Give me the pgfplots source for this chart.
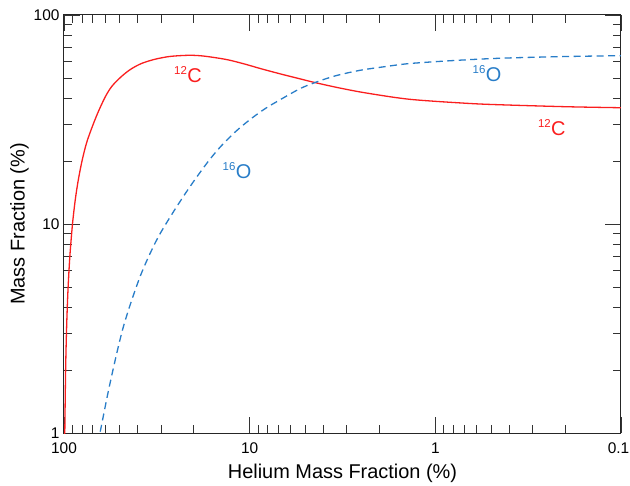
\documentclass[border=0pt]{standalone}
\usepackage{fontspec}
\setmainfont{Liberation Sans}
\usepackage{pgfplots}
\usepackage{pgfplotstable}
\pgfplotsset{compat=1.18}
\definecolor{cred}{RGB}{250,30,30}
\definecolor{cblue}{RGB}{40,125,200}
\newcommand{\iso}[2]{\raisebox{8bp}{\fontsize{11.5}{11.5}\selectfont #1}\kern0.3bp#2}

\pgfplotstableread{
he c
99.95 0.05
99.5 0.5
99 1.0
98 2.0
97 3.0
96 4.0
95 5.0
93 7.0
90 10.0
87 13.0
84 16.0
80 20.0
75 25.0
67.0 32.7
60.1 40.4
55.1 45.7
48.9 50.9
43.6 55.1
38.1 58.7
32.4 61.4
27.4 63.2
23.7 63.9
20.5 64.15
17.4 63.5
13.3 61.2
10.6 58.2
8.8 55.5
6.86 52.3
5.36 49.5
4.45 47.5
3.26 44.7
2.34 42.3
1.37 39.5
0.678 37.8
0.449 37.2
0.196 36.4
0.1 36.0
}\carbon

\pgfplotstableread{
he o
65.6 0.896
64.0 1.0
56.5 1.73
47.9 3.22
38.95 5.59
31.7 8.38
25.8 11.4
20.95 15.1
17.03 19.5
14.44 23.3
12.0 27.5
9.96 31.6
8.27 35.6
6.86 39.3
5.36 44.4
4.45 47.5
3.47 51.1
2.55 54.35
1.87 56.6
1.37 58.6
0.784 60.6
0.449 62.1
0.213 63.2
0.1 63.9
}\oxygen

\begin{document}
\begin{tikzpicture}[x=1bp,y=1bp]
\begin{axis}[
  at={(0,0)}, anchor=south west,
  width=557bp, height=418bp, scale only axis,
  xmode=log, ymode=log, x dir=reverse,
  xmin=0.1, xmax=100, ymin=1, ymax=100,
  xtick={0.1,1,10,100}, xticklabels={{\hspace*{-5bp}0.1},1,10,100},
  ytick={1,10,100}, yticklabels={1,10,100},
  minor xtick={0.2,0.3,0.4,0.5,0.6,0.7,0.8,0.9,2,3,4,5,6,7,8,9,20,30,40,50,60,70,80,90},
  minor ytick={2,3,4,5,6,7,8,9,20,30,40,50,60,70,80,90},
  tick pos=both, tick align=inside,
  major tick length=16bp, minor tick length=8bp,
  every tick/.style={black!80, line width=0.8bp},
  axis line style={black!85, line width=1bp},
  tick label style={font=\fontsize{15.5}{15.5}\selectfont},
  xticklabel style={yshift=-6.5bp},
  yticklabel style={xshift=-1bp},
  label style={font=\fontsize{20}{20}\selectfont},
  xlabel={Helium Mass Fraction (\%)},
  ylabel={Mass Fraction (\%)},
  xlabel style={at={(axis description cs:0.5,-0.0957)}, anchor=center},
  ylabel style={at={(axis description cs:-0.0799,0.5)}, anchor=center},
]
\addplot[cred, line width=1.3bp, smooth] table[x=he, y=c] {\carbon};
\addplot[cblue, line width=1.3bp, smooth, dash pattern=on 7bp off 4.5bp] table[x=he, y=o] {\oxygen};
\node[text=cred, inner sep=0, font=\fontsize{20}{20}\selectfont] at (axis cs:21.5,52.0) {\iso{12}{C}};
\node[text=cred, inner sep=0, font=\fontsize{20}{20}\selectfont] at (axis cs:0.236,28.8) {\iso{12}{C}};
\node[text=cblue, inner sep=0, font=\fontsize{20}{20}\selectfont] at (axis cs:11.7,18.1) {\iso{16}{O}};
\node[text=cblue, inner sep=0, font=\fontsize{20}{20}\selectfont] at (axis cs:0.527,52.2) {\iso{16}{O}};
\end{axis}
\pgfresetboundingbox
\path (-64bp,-53bp) rectangle (566bp,433bp);
\end{tikzpicture}
\end{document}
